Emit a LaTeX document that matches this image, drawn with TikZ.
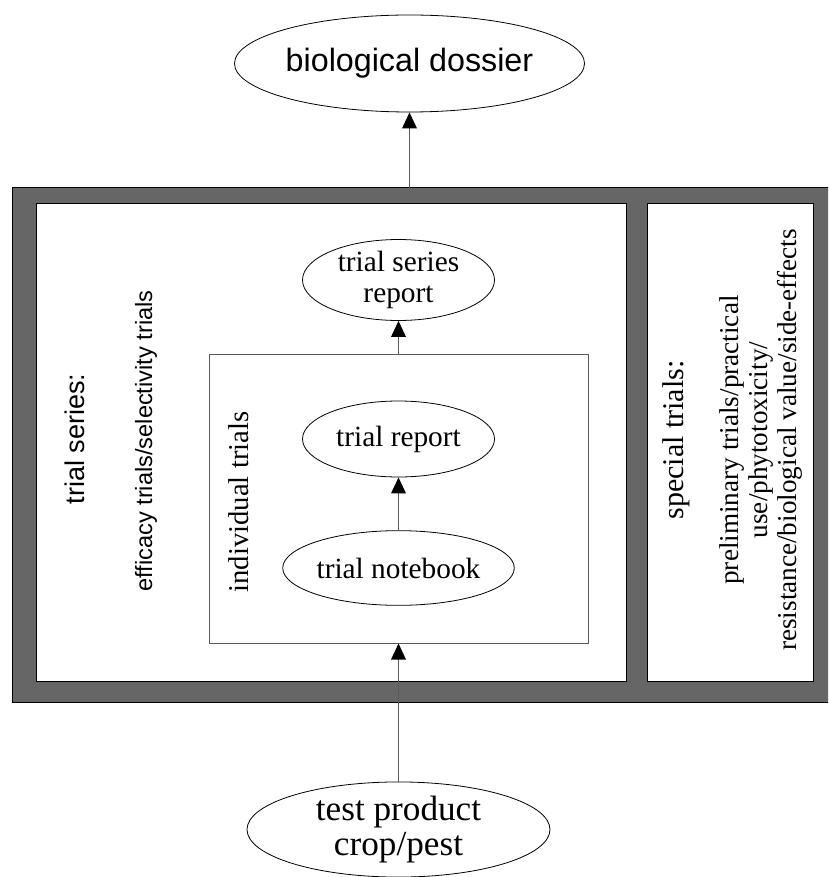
\documentclass[tikz,border=0pt]{standalone}
\usepackage{fontspec}
\setmainfont{Liberation Serif}
\setsansfont{Liberation Sans}
\usepackage{tikz}
\usetikzlibrary{shapes.geometric}
\usetikzlibrary{arrows.meta}
\usepackage{xcolor}
\definecolor{framegray}{RGB}{102,102,102}
\definecolor{linkgray}{RGB}{90,90,90}

\begin{document}
\begin{tikzpicture}[x=0.75pt,y=0.75pt,yscale=-1,xscale=1,
  bubble/.style={draw,ellipse,inner sep=0pt,align=center,line width=0.6pt,font=\fontsize{22}{23}\selectfont},
  link/.style={draw=linkgray,line width=1pt,-{Triangle[width=11pt,length=12pt,black]}}]
%set diagram size 828 x 877
\clip (0,0) rectangle (828,877);

%Shape: Rectangle [id:frame] 
\draw  [fill=framegray,line width=0.75pt] (12,188) rectangle (840,702) ;
%Shape: Rectangle [id:seriespanel] 
\draw  [fill=white,line width=0.75pt] (36,204) rectangle (626,681) ;
%Shape: Rectangle [id:specialpanel] 
\draw  [fill=white,line width=0.75pt] (647,204) rectangle (813,681) ;
\coordinate (frametop) at (409.5,188);

%Shape: Rectangle [id:indiv] 
\node (indiv) [draw=linkgray,line width=0.75pt,inner sep=0pt,minimum width=284.25pt,minimum height=216.75pt] at (398.5,498.5) {};

%Shape: Ellipse [id:dossier] 
\node (dossier) [bubble,font=\sffamily\fontsize{24.2}{29}\selectfont,minimum width=243.75pt,minimum height=72.75pt] at (409.5,63.5) {biological dossier};
%Shape: Ellipse [id:tsr] 
\node (tsr) [bubble,minimum width=144pt,minimum height=57pt] at (398.5,280) {trial series\\report};
%Shape: Ellipse [id:report] 
\node (report) [bubble,minimum width=144pt,minimum height=57pt] at (398.5,439) {trial report};
%Shape: Ellipse [id:notebook] 
\node (notebook) [bubble,minimum width=144pt,minimum height=56pt] at (398.5,568) {trial notebook};
%Shape: Ellipse [id:product] 
\node (product) [bubble,font=\fontsize{26.4}{26.5}\selectfont,minimum width=227.25pt,minimum height=71.25pt] at (398.5,829.5) {test product\\crop/pest};

%Straight Lines 
\draw [link] (product) -- (indiv.south) ;
\draw [link] (notebook) -- (report) ;
\draw [link] (indiv.north) -- (tsr) ;
\draw [link] (frametop) -- (dossier) ;

% Text Node
\node (seriestitle) [rotate=90,font=\sffamily\fontsize{20.3}{24}\selectfont] at (75,439) {trial series:};
% Text Node
\node (serieskinds) [rotate=90,font=\sffamily\fontsize{17.7}{21}\selectfont] at (146,441) {efficacy trials/selectivity trials};
% Text Node
\node (indivtitle) [rotate=90,font=\fontsize{21.5}{26}\selectfont] at (239,502) {individual trials};
% Text Node
\node (specialtitle) [rotate=90,font=\fontsize{22.5}{26}\selectfont] at (676,440) {special trials:};
% Text Node
\node (speciallist) [rotate=90,align=center,font=\fontsize{20.4}{21.75}\selectfont] at (761,440) {preliminary trials/practical\\use/phytotoxicity/\\resistance/biological value/side-effects};

\end{tikzpicture}
\end{document}
